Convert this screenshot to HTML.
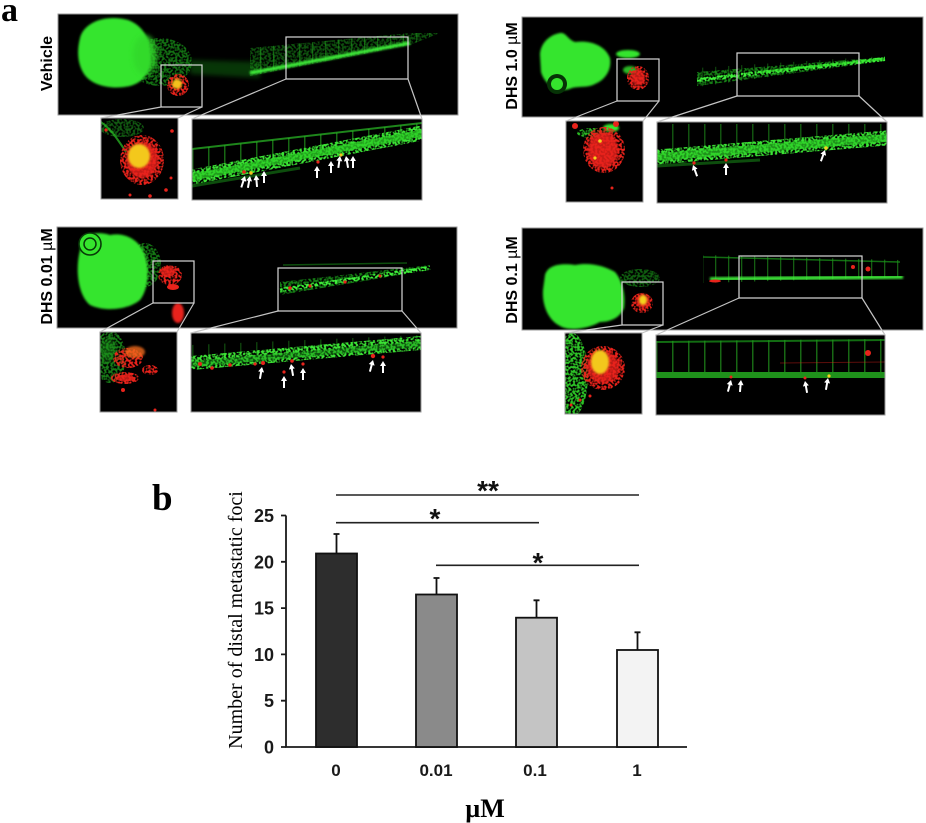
<!DOCTYPE html>
<html><head><meta charset="utf-8"><style>
html,body{margin:0;padding:0;background:#fff;}
svg{display:block;}
</style></head><body>
<svg width="926" height="823" viewBox="0 0 926 823" xmlns="http://www.w3.org/2000/svg">
<defs>
<filter id="b1" x="-50%" y="-50%" width="200%" height="200%"><feGaussianBlur stdDeviation="1"/></filter>
<filter id="b2" x="-50%" y="-50%" width="200%" height="200%"><feGaussianBlur stdDeviation="2.5"/></filter>
<filter id="sp" x="-20%" y="-50%" width="140%" height="200%">
<feTurbulence type="fractalNoise" baseFrequency="0.45" numOctaves="1" seed="3" result="n"/>
<feColorMatrix in="n" type="matrix" values="0 0 0 0 0  0 0 0 0 0  0 0 0 0 0  0 0 0 5 -1.9" result="m"/>
<feComposite in="SourceGraphic" in2="m" operator="in"/>
</filter>
<pattern id="vv" width="13" height="10" patternUnits="userSpaceOnUse"><rect width="1.3" height="10" fill="#2ed028"/></pattern>
<pattern id="vv2" width="16" height="10" patternUnits="userSpaceOnUse"><rect width="1.5" height="10" fill="#2ed028"/></pattern>
<path id="ar" d="M0,0 L3,5 L1,5 L1,12 L-1,12 L-1,5 L-3,5Z" fill="#fff"/>
</defs>
<rect width="926" height="823" fill="#fff"/>

<text x="1" y="21" font-family="Liberation Serif, serif" font-weight="bold" font-size="34" fill="#000">a</text>
<g font-family="Liberation Sans, Arial, sans-serif" font-weight="bold" font-size="16" fill="#000" text-anchor="middle">
<text transform="translate(52,63.5) rotate(-90)">Vehicle</text>
<text transform="translate(517,66) rotate(-90)">DHS 1.0 <tspan font-weight="normal">µ</tspan>M</text>
<text transform="translate(52,276.5) rotate(-90)">DHS 0.01 <tspan font-weight="normal">µ</tspan>M</text>
<text transform="translate(517,280) rotate(-90)">DHS 0.1 <tspan font-weight="normal">µ</tspan>M</text>
</g>

<!-- ===== Panel 1 Vehicle ===== -->
<svg x="58" y="14" width="400" height="101" viewBox="58 14 400 101">
<rect x="58" y="14" width="400" height="101" fill="#000"/>
<ellipse cx="160" cy="62" rx="32" ry="24" fill="#1a9e1a" opacity=".7" filter="url(#sp)"/>
<path d="M190,60 L260,62 L260,78 L190,74Z" fill="#169a16" opacity=".35" filter="url(#b2)"/>
<path d="M80,38 C84,22 106,14 128,20 C142,25 150,38 150,52 C152,68 146,82 130,86 C112,90 92,86 84,74 C77,63 77,50 80,38Z" fill="#35e52d" filter="url(#b1)"/>
<ellipse cx="145" cy="55" rx="12" ry="20" fill="#30d82a" opacity=".8" filter="url(#b2)"/>
<path d="M250,48 L410,33 L440,33 L410,45 L250,76Z" fill="url(#vv)" opacity=".4"/>
<path d="M250,48 L410,33 L440,33 L410,45 L250,76Z" fill="#1a9c1a" opacity=".5" filter="url(#sp)"/>
<path d="M250,73 L410,43" stroke="#3ff03a" stroke-width="3.5" fill="none" filter="url(#b1)"/>
<circle cx="178" cy="85" r="11" fill="#e8231b" filter="url(#sp)"/>
<circle cx="177" cy="84" r="5" fill="#f3c21d" filter="url(#b1)"/>
<rect x="161" y="65" width="41" height="42" fill="none" stroke="#d8d8d8" stroke-width="1.2"/>
<rect x="286" y="37" width="122" height="42" fill="none" stroke="#d8d8d8" stroke-width="1.2"/>
</svg>
<svg x="101" y="118" width="77" height="81" viewBox="101 118 77 81">
<rect x="101" y="118" width="77" height="81" fill="#000"/>
<ellipse cx="122" cy="128" rx="22" ry="9" fill="#22b022" opacity=".5" filter="url(#sp)"/>
<path d="M101,122 C112,130 118,140 126,152" stroke="#2cc526" stroke-width="2" fill="none" opacity=".7"/>
<ellipse cx="142" cy="160" rx="22" ry="25" fill="#e8231b" filter="url(#sp)"/>
<ellipse cx="142" cy="160" rx="16" ry="18" fill="#e8231b" opacity=".85" filter="url(#b1)"/>
<ellipse cx="139" cy="156" rx="11" ry="12" fill="#f3c81d" filter="url(#b1)"/>
<circle cx="106" cy="130" r="1.6" fill="#e8231b"/><circle cx="172" cy="131" r="1.8" fill="#e8231b"/>
<circle cx="166" cy="190" r="1.8" fill="#e8231b"/><circle cx="130" cy="195" r="1.5" fill="#e8231b"/>
<circle cx="150" cy="196" r="1.8" fill="#e8231b"/><circle cx="171" cy="178" r="1.5" fill="#e8231b"/>
</svg>
<svg x="192" y="119" width="230" height="81" viewBox="192 119 230 81">
<rect x="192" y="119" width="230" height="81" fill="#000"/>
<path d="M192,149 L422,123 L422,138 L192,178Z" fill="url(#vv2)" opacity=".5"/>
<path d="M192,149 L422,123" stroke="#2bbf27" stroke-width="2" opacity=".7" fill="none"/>
<path d="M192,177 L422,133" stroke="#3be334" stroke-width="15" fill="none" filter="url(#sp)"/>
<path d="M192,177 L422,133" stroke="#2ccf26" stroke-width="7" fill="none" opacity=".75"/>
<path d="M192,186 L300,168" stroke="#1a9a1a" stroke-width="3" fill="none" opacity=".5"/>
<circle cx="244" cy="172" r="1.8" fill="#e8231b"/><circle cx="251" cy="173" r="1.8" fill="#f3c21d"/>
<circle cx="318" cy="162" r="1.6" fill="#e8231b"/><circle cx="341" cy="155" r="1.6" fill="#f3c21d"/>
<use href="#ar" transform="translate(245,176) rotate(18)"/>
<use href="#ar" transform="translate(250,176) rotate(10)"/>
<use href="#ar" transform="translate(256,175) rotate(-5)"/>
<use href="#ar" transform="translate(264,171)"/>
<use href="#ar" transform="translate(317,166)"/>
<use href="#ar" transform="translate(331,161)"/>
<use href="#ar" transform="translate(340,156) rotate(8)"/>
<use href="#ar" transform="translate(346,156) rotate(-10)"/>
<use href="#ar" transform="translate(353,156)"/>
</svg>

<!-- ===== Panel 2 DHS 1.0 ===== -->
<svg x="522" y="17" width="401" height="100" viewBox="522 17 401 100">
<rect x="522" y="17" width="401" height="100" fill="#000"/>
<path d="M540,55 C540,45 548,35 560,33 C566,32 568,40 575,42 C590,40 605,45 610,58 C612,70 605,80 595,84 C588,88 580,86 572,88 C560,94 545,86 541,72Z" fill="#35e52d" filter="url(#b1)"/>
<circle cx="557" cy="84" r="10" fill="#063306"/>
<circle cx="557" cy="84" r="6" fill="#35e52d"/>
<ellipse cx="628" cy="54" rx="12" ry="4" fill="#35e52d" filter="url(#b1)"/>
<ellipse cx="630" cy="70" rx="7" ry="4" fill="#35e52d" opacity=".8" filter="url(#b1)"/>
<ellipse cx="638" cy="78" rx="11" ry="12" fill="#e8231b" filter="url(#sp)"/>
<ellipse cx="638" cy="78" rx="7" ry="8" fill="#e8231b" opacity=".8" filter="url(#b1)"/>
<path d="M697,68 L885,56 L885,61 L697,87Z" fill="url(#vv)" opacity=".3"/>
<path d="M697,72 L885,57 L885,61 L697,86Z" fill="#1a9c1a" opacity=".8" filter="url(#sp)"/>
<path d="M697,80 L885,59" stroke="#3ff03a" stroke-width="4" fill="none" filter="url(#sp)"/>
<path d="M760,72 L885,59" stroke="#35e52d" stroke-width="2.5" fill="none" opacity=".7"/>
<rect x="617" y="59" width="42" height="42" fill="none" stroke="#d8d8d8" stroke-width="1.2"/>
<rect x="737" y="53" width="122" height="43" fill="none" stroke="#d8d8d8" stroke-width="1.2"/>
</svg>
<svg x="566" y="121" width="77" height="81" viewBox="566 121 77 81">
<rect x="566" y="121" width="77" height="81" fill="#000"/>
<ellipse cx="592" cy="133" rx="15" ry="5" fill="#35e52d" opacity=".8" filter="url(#sp)"/>
<ellipse cx="611" cy="128" rx="8" ry="4" fill="#35e52d" filter="url(#b1)"/>
<ellipse cx="604" cy="150" rx="21" ry="23" fill="#e8231b" filter="url(#sp)"/>
<ellipse cx="603" cy="150" rx="15" ry="18" fill="#e8231b" opacity=".85" filter="url(#b1)"/>
<circle cx="575" cy="126" r="3" fill="#e8231b"/><circle cx="616" cy="124" r="3" fill="#e8231b"/>
<circle cx="600" cy="141" r="1.8" fill="#f3d21d"/><circle cx="595" cy="158" r="1.6" fill="#f3d21d"/>
<circle cx="612" cy="188" r="1.5" fill="#e8231b"/>
</svg>
<svg x="657" y="122" width="230" height="81" viewBox="657 122 230 81">
<rect x="657" y="122" width="230" height="81" fill="#000"/>
<path d="M657,124 L887,124 L887,138 L657,152Z" fill="url(#vv2)" opacity=".4"/>
<path d="M657,157 L887,138" stroke="#3be334" stroke-width="15" fill="none" filter="url(#sp)"/>
<path d="M657,157 L887,138" stroke="#2ccf26" stroke-width="8" fill="none" opacity=".7"/>
<path d="M657,166 L760,160" stroke="#1a9a1a" stroke-width="3" fill="none" opacity=".5"/>
<circle cx="694" cy="163" r="1.6" fill="#e8231b"/><circle cx="726" cy="160" r="1.6" fill="#e8231b"/>
<circle cx="826" cy="148" r="1.8" fill="#f3d21d"/>
<use href="#ar" transform="translate(693,165) rotate(-20)"/>
<use href="#ar" transform="translate(726,163)"/>
<use href="#ar" transform="translate(825,150) rotate(20)"/>
</svg>

<!-- ===== Panel 3 DHS 0.01 ===== -->
<svg x="57" y="227" width="400" height="101" viewBox="57 227 400 101">
<rect x="57" y="227" width="400" height="101" fill="#000"/>
<ellipse cx="145" cy="265" rx="16" ry="22" fill="#1a9e1a" opacity=".75" filter="url(#sp)"/>
<path d="M80,250 C80,235 95,230 110,235 C125,232 140,240 145,255 C150,270 148,290 140,300 C128,310 105,312 90,305 C78,295 75,270 80,250Z" fill="#35e52d" filter="url(#b1)"/>
<circle cx="90" cy="244" r="11" fill="#35e52d" stroke="#083a08" stroke-width="1.6"/>
<circle cx="90" cy="244" r="6" fill="none" stroke="#083a08" stroke-width="1.5"/>
<ellipse cx="170" cy="275" rx="12" ry="10" fill="#e8231b" filter="url(#sp)"/>
<ellipse cx="168" cy="272" rx="7" ry="5" fill="#e8231b" opacity=".8"/>
<ellipse cx="173" cy="287" rx="6" ry="3" fill="#e8231b"/>
<ellipse cx="178" cy="313" rx="6" ry="10" fill="#e8231b" filter="url(#b1)"/>
<path d="M283,265 L407,263" stroke="#1a9a1a" stroke-width="1.5" opacity=".5" fill="none"/>
<path d="M280,282 L430,265 L430,270 L280,295Z" fill="#1a9c1a" opacity=".8" filter="url(#sp)"/>
<path d="M280,290 L430,268" stroke="#3ff03a" stroke-width="4" fill="none" filter="url(#sp)"/>
<circle cx="290" cy="288" r="1.8" fill="#e8231b"/><circle cx="310" cy="286" r="1.6" fill="#e8231b"/>
<circle cx="345" cy="282" r="1.6" fill="#e8231b"/><circle cx="380" cy="276" r="1.5" fill="#e8231b"/>
<rect x="153" y="261" width="41" height="42" fill="none" stroke="#d8d8d8" stroke-width="1.2"/>
<rect x="278" y="268" width="124" height="43" fill="none" stroke="#d8d8d8" stroke-width="1.2"/>
</svg>
<svg x="100" y="332" width="77" height="80" viewBox="100 332 77 80">
<rect x="100" y="332" width="77" height="80" fill="#000"/>
<ellipse cx="110" cy="357" rx="16" ry="26" fill="#22b022" opacity=".7" filter="url(#sp)"/>
<ellipse cx="108" cy="350" rx="8" ry="12" fill="#1f9a1f" opacity=".5" filter="url(#b2)"/>
<ellipse cx="128" cy="358" rx="15" ry="10" fill="#e8231b" filter="url(#sp)"/>
<ellipse cx="135" cy="352" rx="10" ry="6" fill="#f06a1a" opacity=".8" filter="url(#b1)"/>
<ellipse cx="125" cy="378" rx="14" ry="6" fill="#e8231b" filter="url(#sp)"/>
<ellipse cx="125" cy="378" rx="9" ry="3.5" fill="#e8231b" opacity=".8"/>
<ellipse cx="150" cy="370" rx="8" ry="5" fill="#e8231b" filter="url(#sp)"/>
<circle cx="123" cy="390" r="2" fill="#e8231b"/><circle cx="155" cy="410" r="1.5" fill="#e8231b"/>
</svg>
<svg x="191" y="333" width="230" height="79" viewBox="191 333 230 79">
<rect x="191" y="333" width="230" height="79" fill="#000"/>
<path d="M191,345 L421,335 L421,345 L191,360Z" fill="url(#vv2)" opacity=".3"/>
<path d="M191,363 L421,343" stroke="#3be334" stroke-width="14" fill="none" filter="url(#sp)"/>
<path d="M191,364 L421,344" stroke="#1a9a1a" stroke-width="6" fill="none" opacity=".5"/>
<circle cx="200" cy="364" r="2" fill="#e8231b"/><circle cx="212" cy="368" r="1.8" fill="#e8231b"/>
<circle cx="230" cy="365" r="1.8" fill="#e8231b"/><circle cx="255" cy="364" r="1.6" fill="#e8231b"/>
<circle cx="263" cy="363" r="2" fill="#e8231b"/><circle cx="284" cy="372" r="1.6" fill="#e8231b"/>
<circle cx="292" cy="361" r="1.8" fill="#e8231b"/><circle cx="303" cy="364" r="1.6" fill="#e8231b"/>
<circle cx="373" cy="356" r="2.2" fill="#e8231b"/><circle cx="383" cy="357" r="1.6" fill="#e8231b"/>
<use href="#ar" transform="translate(262,367) rotate(10)"/>
<use href="#ar" transform="translate(284,376)"/>
<use href="#ar" transform="translate(291,364) rotate(-10)"/>
<use href="#ar" transform="translate(303,368)"/>
<use href="#ar" transform="translate(373,360) rotate(15)"/>
<use href="#ar" transform="translate(383,361)"/>
</svg>

<!-- ===== Panel 4 DHS 0.1 ===== -->
<svg x="522" y="228" width="401" height="102" viewBox="522 228 401 102">
<rect x="522" y="228" width="401" height="102" fill="#000"/>
<ellipse cx="640" cy="278" rx="20" ry="9" fill="#1a9e1a" opacity=".6" filter="url(#sp)"/>
<path d="M545,275 C548,265 560,263 575,265 C590,262 605,266 615,272 C622,280 626,295 624,308 C620,318 610,322 600,322 C590,328 570,332 560,326 C548,320 542,305 543,290Z" fill="#35e52d" filter="url(#b1)"/>
<ellipse cx="642" cy="303" rx="11" ry="10" fill="#e8231b" filter="url(#sp)"/>
<ellipse cx="643" cy="301" rx="7" ry="7" fill="#e8231b" opacity=".8" filter="url(#b1)"/>
<ellipse cx="643" cy="300" rx="4" ry="5" fill="#f3d21d" filter="url(#b1)"/>
<path d="M703,255 L900,260 L905,277 L703,283Z" fill="url(#vv)" opacity=".45"/>
<path d="M703,257 L900,262" stroke="#1a9a1a" stroke-width="1.5" fill="none" opacity=".7"/>
<path d="M710,279 L903,277" stroke="#3ff03a" stroke-width="3.5" fill="none" filter="url(#b1)"/>
<path d="M703,272 L900,272" stroke="#1a9c1a" stroke-width="6" fill="none" opacity=".5" filter="url(#sp)"/>
<ellipse cx="715" cy="281" rx="6" ry="1.5" fill="#e8231b"/>
<circle cx="853" cy="267" r="2" fill="#e8231b"/><circle cx="868" cy="269" r="2.5" fill="#e8231b"/>
<rect x="622" y="282" width="41" height="43" fill="none" stroke="#d8d8d8" stroke-width="1.2"/>
<rect x="739" y="256" width="123" height="42" fill="none" stroke="#d8d8d8" stroke-width="1.2"/>
</svg>
<svg x="565" y="333" width="77" height="81" viewBox="565 333 77 81">
<rect x="565" y="333" width="77" height="81" fill="#000"/>
<ellipse cx="572" cy="375" rx="16" ry="42" fill="#35e52d" opacity=".85" filter="url(#sp)"/>
<ellipse cx="603" cy="368" rx="22" ry="22" fill="#e8231b" filter="url(#sp)"/>
<ellipse cx="603" cy="367" rx="16" ry="16" fill="#e8231b" opacity=".8" filter="url(#b1)"/>
<ellipse cx="600" cy="362" rx="9" ry="12" fill="#f3c81d" filter="url(#b1)"/>
<circle cx="580" cy="400" r="1.5" fill="#e8231b"/><circle cx="590" cy="396" r="1.5" fill="#e8231b"/>
<circle cx="571" cy="405" r="1.5" fill="#e8231b"/>
</svg>
<svg x="656" y="335" width="229" height="80" viewBox="656 335 229 80">
<rect x="656" y="335" width="229" height="80" fill="#000"/>
<path d="M656,341 L885,339 L885,372 L656,372Z" fill="url(#vv2)" opacity=".5"/>
<path d="M656,342 L885,340" stroke="#1a9a1a" stroke-width="2" fill="none" opacity=".7"/>
<path d="M656,375 L885,375" stroke="#3be334" stroke-width="13" fill="none" filter="url(#sp)"/>
<path d="M656,375 L885,375" stroke="#2ccf26" stroke-width="6" fill="none" opacity=".7"/>
<path d="M780,363 L885,362" stroke="#e8231b" stroke-width="1" fill="none" opacity=".4"/>
<circle cx="868" cy="353" r="3" fill="#e8231b"/>
<circle cx="731" cy="377" r="1.5" fill="#e8231b"/><circle cx="805" cy="378" r="1.5" fill="#e8231b"/>
<circle cx="829" cy="376" r="1.6" fill="#f3d21d"/>
<use href="#ar" transform="translate(731,380) rotate(15)"/>
<use href="#ar" transform="translate(741,380) rotate(5)"/>
<use href="#ar" transform="translate(805,381) rotate(-10)"/>
<use href="#ar" transform="translate(828,378) rotate(10)"/>
</svg>

<g fill="none" stroke="#9a9a9a" stroke-width="1">
<rect x="58" y="14" width="400" height="101"/><rect x="101" y="118" width="77" height="81"/><rect x="192" y="119" width="230" height="81"/>
<rect x="522" y="17" width="401" height="100"/><rect x="566" y="121" width="77" height="81"/><rect x="657" y="122" width="230" height="81"/>
<rect x="57" y="227" width="400" height="101"/><rect x="100" y="332" width="77" height="80"/><rect x="191" y="333" width="230" height="79"/>
<rect x="522" y="228" width="401" height="102"/><rect x="565" y="333" width="77" height="81"/><rect x="656" y="335" width="229" height="80"/>
</g>
<g stroke="#c4c4c4" stroke-width="1.2" fill="none">
<path d="M161,107 L101,118 M202,107 L178,118 M286,79 L192,119 M408,79 L422,119"/>
<path d="M617,101 L566,121 M659,101 L643,121 M737,96 L657,122 M859,96 L887,122"/>
<path d="M153,303 L100,332 M194,303 L177,332 M278,311 L191,333 M402,311 L421,333"/>
<path d="M622,325 L565,333 M663,325 L642,333 M739,298 L656,335 M862,298 L885,335"/>
</g>

<!-- ===== Chart b ===== -->
<text x="152" y="510" font-family="Liberation Serif, serif" font-weight="bold" font-size="37" fill="#000">b</text>

<g stroke="#1a1a1a" stroke-width="1.8" fill="none">
<path d="M286,515.5 L286,747 L687,747"/>
<path d="M281,515.5 H286 M281,561.8 H286 M281,608.1 H286 M281,654.4 H286 M281,700.7 H286 M281,747 H286"/>
</g>
<g font-family="Liberation Sans, Arial, sans-serif" font-weight="bold" font-size="18" fill="#1a1a1a" text-anchor="end">
<text x="274" y="522">25</text>
<text x="274" y="568.3">20</text>
<text x="274" y="614.6">15</text>
<text x="274" y="660.9">10</text>
<text x="274" y="707.2">5</text>
<text x="274" y="753.5">0</text>
</g>

<text transform="translate(242,620) rotate(-90)" text-anchor="middle" font-family="Liberation Serif, serif" font-size="20" fill="#000">Number of distal metastatic foci</text>

<g stroke="#111" stroke-width="1.8">
<rect x="316" y="553.5" width="41" height="193.5" fill="#2d2d2d"/>
<rect x="416" y="594.5" width="41" height="152.5" fill="#8a8a8a"/>
<rect x="516" y="617.7" width="41" height="129.3" fill="#c4c4c4"/>
<rect x="617" y="650" width="41" height="97" fill="#f3f3f3"/>
</g>
<g stroke="#111" stroke-width="1.8" fill="none">
<path d="M336.5,553.5 V534 M333.5,534 H339.5"/>
<path d="M436.5,594.5 V578 M433.5,578 H439.5"/>
<path d="M536.5,617.7 V600.3 M533.5,600.3 H539.5"/>
<path d="M637.5,650 V632.3 M634.5,632.3 H640.5"/>
</g>

<g stroke="#222" stroke-width="1.6" fill="none">
<path d="M336,495 H639"/>
<path d="M336,522.7 H539"/>
<path d="M436,565.3 H639"/>
</g>
<g font-family="Liberation Sans, Arial, sans-serif" font-weight="bold" font-size="28" fill="#111" text-anchor="middle">
<text x="488" y="500">**</text>
<text x="435" y="528">*</text>
<text x="538" y="572">*</text>
</g>

<g font-family="Liberation Sans, Arial, sans-serif" font-weight="bold" font-size="17" fill="#1a1a1a" text-anchor="middle">
<text x="336" y="776">0</text>
<text x="436" y="776">0.01</text>
<text x="535" y="776">0.1</text>
<text x="637" y="776">1</text>
</g>
<text x="485" y="817" text-anchor="middle" font-family="Liberation Serif, serif" font-weight="bold" font-size="26" fill="#000">µM</text>
</svg>
</body></html>
